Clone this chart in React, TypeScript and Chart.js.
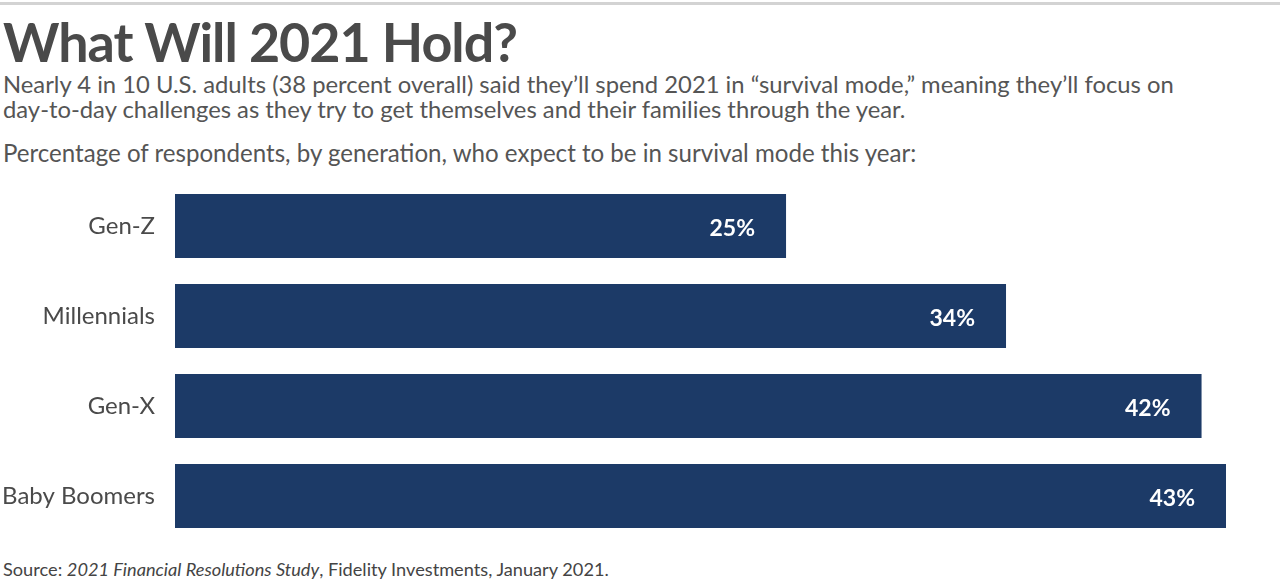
import React, { useEffect, useRef } from "react";
import { Chart, registerables } from "chart.js";

Chart.register(...registerables);

const categories = ["Gen-Z", "Millennials", "Gen-X", "Baby Boomers"];
const values = [25, 34, 42, 43];
const valueLabels = ["25%", "34%", "42%", "43%"];

const FONT = "Lato, 'Open Sans', sans-serif";
const BAR_COLOR = "#1c3a67";
const TEXT_COLOR = "#4a4a4a";

const valueLabelPlugin = {
  id: "valueLabels",
  afterDatasetsDraw(chart: any) {
    const ctx = chart.ctx;
    const meta = chart.getDatasetMeta(0);
    ctx.save();
    ctx.fillStyle = "#ffffff";
    ctx.font = `bold 23px ${FONT}`;
    ctx.textAlign = "right";
    ctx.textBaseline = "middle";
    meta.data.forEach((bar: any, i: number) => {
      ctx.fillText(valueLabels[i], bar.x - 31, bar.y + 3);
    });
    ctx.restore();
  },
};

function BarChart() {
  const ref = useRef<HTMLCanvasElement>(null);
  useEffect(() => {
    if (!ref.current) return;
    const chart = new Chart(ref.current, {
      type: "bar",
      data: {
        labels: categories,
        datasets: [
          {
            data: values,
            backgroundColor: BAR_COLOR,
            borderWidth: 0,
            categoryPercentage: 1,
            barPercentage: 64 / 90,
          },
        ],
      },
      options: {
        indexAxis: "y",
        animation: false,
        responsive: false,
        maintainAspectRatio: false,
        layout: { padding: { top: 11, bottom: 4, right: 54, left: 0 } },
        plugins: { legend: { display: false }, tooltip: { enabled: false } },
        scales: {
          x: { display: false, min: 0, max: 43 },
          y: {
            grid: { display: false, drawTicks: false },
            border: { display: false },
            ticks: {
              padding: 20,
              color: TEXT_COLOR,
              font: { family: FONT, size: 24 },
            },
            afterFit(scale: any) {
              scale.width = 175;
              scale.paddingTop = 0;
              scale.paddingBottom = 0;
            },
          },
        },
      },
      plugins: [valueLabelPlugin],
    });
    return () => chart.destroy();
  }, []);
  return <canvas ref={ref} width={1280} height={375} style={{ display: "block" }} />;
}

export default function App() {
  return (
    <div
      style={{
        position: "absolute",
        left: 0,
        top: 0,
        width: 1280,
        height: 583,
        background: "#fff",
        fontFamily: FONT,
        color: TEXT_COLOR,
        overflow: "hidden",
      }}
    >
      <div style={{ position: "absolute", left: 0, top: 2, width: 1280, height: 3, background: "#d3d3d3" }} />
      <div
        style={{
          position: "absolute",
          left: 3,
          top: 7,
          fontSize: 53.8,
          fontWeight: 700,
          lineHeight: "68px",
          color: "#4a4a4a",
          letterSpacing: -1,
          whiteSpace: "nowrap",
        }}
      >
        What Will 2021 Hold?
      </div>
      <div
        style={{
          position: "absolute",
          left: 3,
          top: 72,
          fontSize: 23.8,
          lineHeight: "25px",
          color: "#555",
          whiteSpace: "nowrap",
        }}
      >
        Nearly 4 in 10 U.S. adults (38 percent overall) said they’ll spend 2021 in “survival mode,” meaning they’ll focus on
        <br />
        day-to-day challenges as they try to get themselves and their families through the year.
      </div>
      <div
        style={{
          position: "absolute",
          left: 3,
          top: 139,
          fontSize: 24.1,
          lineHeight: "28px",
          color: "#555",
          whiteSpace: "nowrap",
        }}
      >
        Percentage of respondents, by generation, who expect to be in survival mode this year:
      </div>
      <div style={{ position: "absolute", left: 0, top: 170, width: 1280, height: 375 }}>
        <BarChart />
      </div>
      <div
        style={{
          position: "absolute",
          left: 3,
          top: 558,
          fontSize: 18.2,
          lineHeight: "22px",
          color: "#444",
          whiteSpace: "nowrap",
        }}
      >
        Source: <i>2021 Financial Resolutions Study</i>, Fidelity Investments, January 2021.
      </div>
    </div>
  );
}
